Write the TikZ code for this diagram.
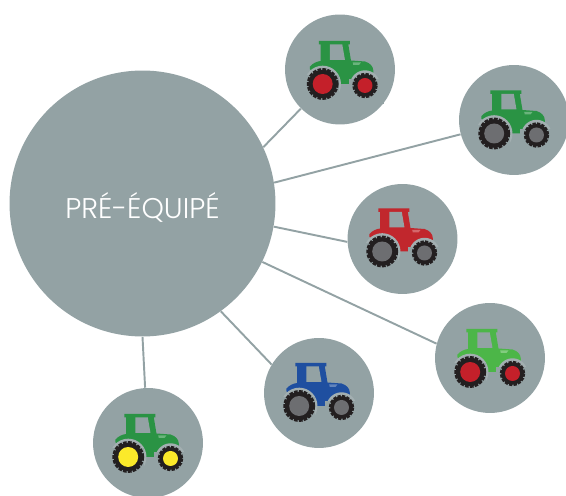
\documentclass[tikz,border=0pt]{standalone}
\usepackage{fontspec}
\setmainfont{Poppins Light}
\definecolor{discgray}{HTML}{93A2A4}
\definecolor{haloGray}{HTML}{A3AFB1}
\definecolor{hubgray}{HTML}{6D6E71}
\definecolor{tirered}{HTML}{C4202A}
\definecolor{tireyellow}{HTML}{FBE92A}
\definecolor{tireblack}{HTML}{231F20}
\definecolor{bodygreen}{HTML}{2A9344}
\definecolor{bodyred}{HTML}{C1272D}
\definecolor{bodylime}{HTML}{4CB648}
\definecolor{bodyblue}{HTML}{1F4FA0}
\tikzset{
  disc/.style={circle,fill=discgray,inner sep=0pt,minimum size=2.2cm},
  spoke/.style={draw=discgray,line width=1.1pt},
  pics/tractor/.style n args={2}{code={
    % cab and hood
    \fill[#1] (-21,-28.5) -- (10,-28.5) -- (10,-25) -- (8.3,-25) -- (11,-9) -- (25,-8)
      .. controls (30,-6.5) and (33.3,-3) .. (33.3,1) -- (33.3,3) -- (10,14.5) -- (1,14.5)
      -- (-30,0) -- (-30,-3) .. controls (-27,-6.5) and (-23,-8) .. (-19.3,-8.5)
      -- (-19.3,-25) -- (-21,-25) -- cycle;
    \fill[discgray] (-10,-25) -- (2.3,-25) -- (5,-9.5) -- (-10,-9.5) -- cycle;
    \fill[#1!70!white] (12.7,-7) -- (21,-7) -- (19,-4.5) -- (13.3,-4.5) -- cycle;
    % gaps under the fenders
    \fill[haloGray] (-17.3,14.5) circle[radius=18.3];
    \fill[haloGray] (25,16) circle[radius=15.2];
    \fill[discgray] (-38,6) rectangle (-1,35);
    \fill[discgray] (9,10) rectangle (44,35);
    % wheels
    \fill[tireblack] (-17.3,14.5) circle[radius=14.3];
    \draw[tireblack,line width=1.4pt,dash pattern=on 2.1pt off 0.7pt] (-17.3,14.5) circle[radius=14.7];
    \fill[#2] (-17.3,14.5) circle[radius=10];
    \fill[tireblack] (25,16) circle[radius=11.2];
    \draw[tireblack,line width=1.3pt,dash pattern=on 1.9pt off 0.7pt] (25,16) circle[radius=11.6];
    \fill[#2] (25,16) circle[radius=7.5];
  }}
}
\begin{document}
\begin{tikzpicture}[x=0.02cm,y=-0.02cm]
\useasboundingbox (0,0) rectangle (566,496);
% hub and satellites
\node[disc,minimum size=5.32cm] (hub) at (142.5,203.5) {};
\node[disc] (top) at (340,69.5) {};
\node[disc] (right) at (514,120) {};
\node[disc] (mid) at (402.5,239) {};
\node[disc] (lime) at (490,358) {};
\node[disc] (blue) at (319,393) {};
\node[disc] (bottom) at (148,443) {};
\node[text=white,font=\fontsize{16.2}{18}\selectfont] (title) at (142.5,207) {PRÉ-ÉQUIPÉ};

\draw[spoke] (hub.25) -- (top.225);
\draw[spoke] (hub.9.7) -- (right.195);
\draw[spoke] (hub.-10) -- (mid.183);
\draw[spoke] (hub.-26.9) -- (lime.165);
\draw[spoke] (hub.-54.5) -- (blue.149);
\draw[spoke] (hub.-90) -- (bottom.93);

\pic at (top) {tractor={bodygreen}{tirered}};
\pic at ([shift={(-2.5,-1)}]right) {tractor={bodygreen}{hubgray}};
\pic at ([shift={(-3,-2)}]mid) {tractor={bodyred}{hubgray}};
\pic at ([shift={(-2.5,-0.5)}]lime) {tractor={bodylime}{tirered}};
\pic at ([shift={(-2.5,-1.5)}]blue) {tractor={bodyblue}{hubgray}};
\pic at ([shift={(-2.5,-0.5)}]bottom) {tractor={bodygreen}{tireyellow}};
\end{tikzpicture}
\end{document}
